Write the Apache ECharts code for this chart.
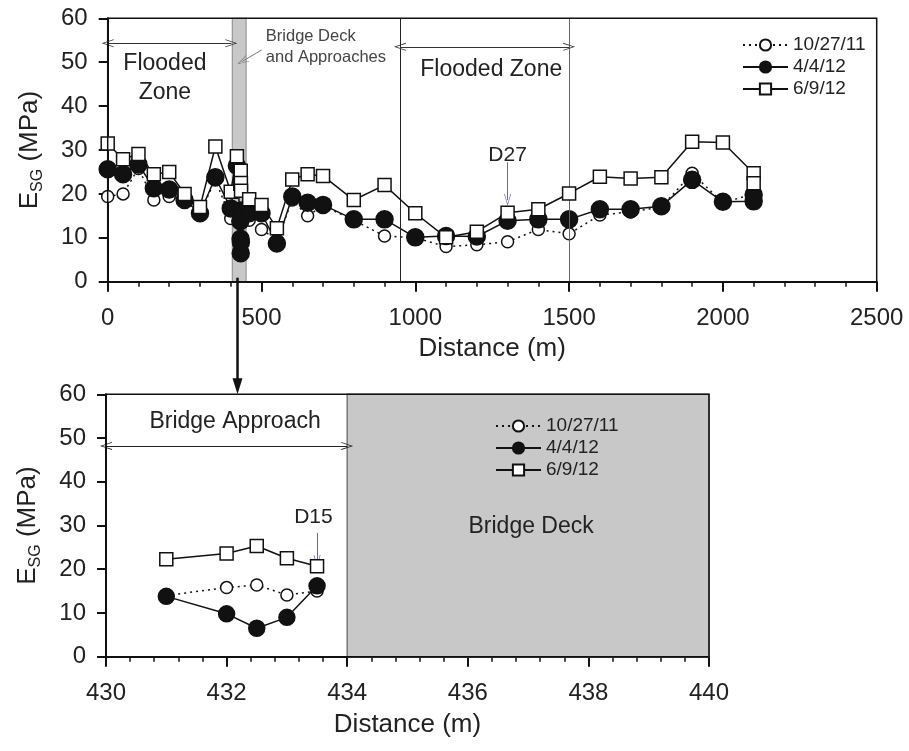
<!DOCTYPE html>
<html>
<head>
<meta charset="utf-8">
<script src="https://cdn.jsdelivr.net/npm/echarts@6/dist/echarts.min.js"></script>
<style>html,body{margin:0;padding:0;background:#fff;}#c{width:909px;height:751px;}</style>
</head>
<body>
<div id="c"></div>
<script>
// ---------- DATA ----------
const seriesNames = ['10/27/11', '4/4/12', '6/9/12'];

// Top chart: full alignment
const distTop = [0, 50, 100, 150, 200, 250, 300, 350, 400, 420, 431, 432, 432.5, 433, 433.5, 460, 500, 550, 600, 650, 700, 800, 900, 1000, 1100, 1200, 1300, 1400, 1500, 1600, 1700, 1800, 1900, 2000, 2100, 2100];
const esgOct11Top = [19.4, 20.0, 25.8, 18.6, 19.4, 18.6, 15.6, 23.2, 14.4, null, 14.0, 15.8, 16.4, 14.1, 15.0, 14.0, 11.9, 9.5, 18.6, 15.0, 17.3, 14.0, 10.4, 10.0, 8.0, 8.4, 9.1, 11.9, 10.9, 15.2, 15.9, 17.0, 24.7, 18.0, 20.0, null];
const esgApr12Top = [25.6, 24.5, 26.7, 21.3, 21.0, 18.6, 15.6, 23.8, 16.7, 26.4, 13.8, 9.8, 6.5, 9.0, 16.2, 15.6, 15.6, 8.7, 19.4, 18.0, 17.5, 14.2, 14.2, 10.1, 10.4, 10.3, 13.9, 14.2, 14.2, 16.5, 16.5, 17.2, 23.2, 18.2, 18.3, 19.8];
const esgJun12Top = [31.5, 27.9, 29.1, 24.5, 25.0, 20.0, 17.0, 30.8, 20.5, 28.6, 22.3, 23.6, 25.3, 22.5, 20.7, 18.8, 17.5, 12.2, 23.3, 24.5, 24.1, 18.6, 22.0, 15.6, 10.1, 11.4, 15.7, 16.5, 20.1, 23.9, 23.5, 23.8, 31.9, 31.7, 24.7, 22.4];

// Bottom chart: bridge approach detail
const distBridge = [431, 432, 432.5, 433, 433.5];
const esgOct11Bridge = [14.0, 15.8, 16.4, 14.1, 15.0];
const esgApr12Bridge = [13.8, 9.8, 6.5, 9.0, 16.2];
const esgJun12Bridge = [22.3, 23.6, 25.3, 22.5, 20.7];

// Zones (m)
const zoneBoundaries = [950, 1500];
const bridgeBandTop = [405, 450];
const bridgeDeckBottom = [434, 440];

// Axis ranges
const xRangeTop = [0, 2500, 500];
const xRangeBottom = [430, 440, 2];
const yRange = [0, 60, 10];

// ---------- STYLE ----------
const FONT = 'Liberation Sans, Arial, sans-serif';
const TXT = '#222';
const chevron = 'path://M0,10 L5,0 L10,10 L9,10 L5,2 L1,10 Z';

function pairs(xs, ys) {
  return xs.map((x, i) => [x, ys[i]]).filter(p => p[1] != null);
}

const symStyles = [
  { symbol: 'circle', color: '#fff', line: { color: '#111', width: 1.5, type: [2, 4] } },
  { symbol: 'circle', color: '#111', line: { color: '#111', width: 1.5, type: 'solid' } },
  { symbol: 'rect', color: '#fff', line: { color: '#111', width: 1.5, type: 'solid' } }
];
const symSizesTop = [12, 17, 13];
const symSizesBottom = [12, 16, 13];

function makeSeries(name, data, idx, grid, sizes) {
  const s = symStyles[idx];
  return {
    type: 'line', name: name, data: data,
    xAxisIndex: grid, yAxisIndex: grid,
    symbol: s.symbol, symbolSize: sizes[idx],
    showAllSymbol: true,
    itemStyle: { color: s.color, borderColor: '#111', borderWidth: 1.5 },
    lineStyle: s.line,
    emphasis: { disabled: true },
    z: 3 + idx
  };
}

function xAxisCfg(grid, r, minorSplit) {
  return {
    type: 'value', gridIndex: grid, min: r[0], max: r[1], interval: r[2],
    axisLine: { lineStyle: { color: '#111', width: 2 } },
    axisTick: { inside: false, length: 10, lineStyle: { color: '#111', width: 2 } },
    minorTick: { show: true, splitNumber: minorSplit, length: 5, lineStyle: { color: '#111', width: 1.5 } },
    splitLine: { show: false },
    axisLabel: { color: TXT, fontSize: 24, fontFamily: FONT, margin: 25, formatter: v => String(v) },
    name: 'Distance (m)', nameLocation: 'middle', nameGap: grid === 0 ? 54 : 55,
    nameTextStyle: { color: TXT, fontSize: 26, fontFamily: FONT }
  };
}
function yAxisCfg(grid) {
  return {
    type: 'value', gridIndex: grid, min: yRange[0], max: yRange[1], interval: yRange[2],
    axisLine: { show: true, lineStyle: { color: '#111', width: 2 } },
    axisTick: { show: true, inside: false, length: 9, lineStyle: { color: '#111', width: 2 } },
    splitLine: { show: false },
    axisLabel: { color: TXT, fontSize: 24, fontFamily: FONT, margin: 20, formatter: v => String(v) },
    name: '{e|E}{s|SG}{e| (MPa)}', nameLocation: 'middle', nameGap: 62,
    nameTextStyle: {
      color: TXT, fontFamily: FONT,
      rich: {
        e: { fontSize: 26, color: TXT, fontFamily: FONT, lineHeight: 30, verticalAlign: 'bottom', padding: [0, 0, 3, 0] },
        s: { fontSize: 16, color: TXT, fontFamily: FONT, lineHeight: 30, verticalAlign: 'bottom' }
      }
    }
  };
}

const top0 = makeSeries(seriesNames[0], pairs(distTop, esgOct11Top), 0, 0, symSizesTop);
const top1 = makeSeries(seriesNames[1], pairs(distTop, esgApr12Top), 1, 0, symSizesTop);
const top2 = makeSeries(seriesNames[2], pairs(distTop, esgJun12Top), 2, 0, symSizesTop);
const bot0 = makeSeries(seriesNames[0], pairs(distBridge, esgOct11Bridge), 0, 1, symSizesBottom);
const bot1 = makeSeries(seriesNames[1], pairs(distBridge, esgApr12Bridge), 1, 1, symSizesBottom);
const bot2 = makeSeries(seriesNames[2], pairs(distBridge, esgJun12Bridge), 2, 1, symSizesBottom);

// Top: bridge band + zone boundaries
top0.markArea = {
  silent: true,
  itemStyle: { color: '#c8c8c8', borderColor: '#888', borderWidth: 1 },
  data: [[{ xAxis: bridgeBandTop[0] }, { xAxis: bridgeBandTop[1] }]]
};
top0.markLine = {
  silent: true, symbol: 'none', label: { show: false }, animation: false,
  lineStyle: { color: '#222', width: 1, type: 'solid' },
  data: [{ xAxis: zoneBoundaries[0] }, { xAxis: zoneBoundaries[1], lineStyle: { color: '#666', width: 1, type: 'solid' } }]
};
// Top: flooded zone double arrows
top1.markLine = {
  silent: true, symbol: [chevron, chevron], symbolSize: [8, 12], label: { show: false }, animation: false,
  lineStyle: { color: '#333', width: 1, type: 'solid' },
  data: [
    [{ coord: [0, 54.3] }, { coord: [bridgeBandTop[0] - 3, 54.3] }],
    [{ coord: [zoneBoundaries[0], 53.5] }, { coord: [zoneBoundaries[1], 53.5] }]
  ]
};
// Top: D27 arrow + pointer to bridge band
top2.markLine = {
  silent: true, symbol: ['none', chevron], symbolSize: [7, 12], label: { show: false }, animation: false,
  lineStyle: { color: '#7060b0', width: 1, type: 'solid' },
  data: [
    [{ coord: [1300, 27.2], lineStyle: { color: '#7060b0', width: 1, type: 'solid' } }, { coord: [1300, 18.6] }],
    [{ coord: [501, 52.8], lineStyle: { color: '#777', width: 1, type: 'solid' } }, { coord: [bridgeBandTop[1] - 12, 50.2] }]
  ]
};
// Bottom: bridge deck area
bot0.markArea = {
  silent: true,
  itemStyle: { color: '#c8c8c8', borderColor: '#777', borderWidth: 1.5 },
  data: [[{ xAxis: bridgeDeckBottom[0] }, { xAxis: bridgeDeckBottom[1] }]]
};
bot1.markLine = {
  silent: true, symbol: [chevron, chevron], symbolSize: [8, 12], label: { show: false }, animation: false,
  lineStyle: { color: '#222', width: 1, type: 'solid' },
  data: [[{ coord: [xRangeBottom[0], 48.2] }, { coord: [bridgeDeckBottom[0], 48.2] }]]
};
bot2.markLine = {
  silent: true, symbol: ['none', chevron], symbolSize: [7, 12], label: { show: false }, animation: false,
  lineStyle: { color: '#7060b0', width: 1, type: 'solid' },
  data: [[{ coord: [433.5, 28.3] }, { coord: [433.5, 21.9] }]]
};

const legendCommon = {
  orient: 'vertical', itemWidth: 45, itemHeight: 14, itemGap: 2,
  textStyle: { color: TXT, fontSize: 19, fontFamily: FONT, lineHeight: 20 },
  data: seriesNames, selectedMode: false
};

const option = {
  animation: false,
  backgroundColor: '#fff',
  textStyle: { fontFamily: FONT },
  grid: [
    { left: 107.7, top: 18.3, width: 769, height: 263.4, show: false },
    { left: 106, top: 394.3, width: 603, height: 262.4, show: false }
  ],
  xAxis: [xAxisCfg(0, xRangeTop, 5), xAxisCfg(1, xRangeBottom, 5)],
  yAxis: [yAxisCfg(0), yAxisCfg(1)],
  legend: [
    Object.assign({ left: 737, top: 30 }, legendCommon),
    Object.assign({ left: 490, top: 411 }, legendCommon)
  ],
  series: [top0, top1, top2, bot0, bot1, bot2]
};

const chart = echarts.init(document.getElementById('c'), null, { renderer: 'canvas' });
chart.setOption(option);

// ---------- ANNOTATIONS (positioned through the chart's own scales) ----------
const px = (g, v) => chart.convertToPixel({ gridIndex: g }, v);
const t0 = px(0, [xRangeTop[0], yRange[1]]), t1 = px(0, [xRangeTop[1], yRange[0]]);
const b0 = px(1, [xRangeBottom[0], yRange[1]]), b1 = px(1, [xRangeBottom[1], yRange[0]]);

function txt(pos, text, size, extra) {
  return {
    type: 'text', x: pos[0], y: pos[1], z: 50, silent: true,
    style: Object.assign({ text: text, fill: TXT, font: size + 'px ' + FONT, textAlign: 'center', textVerticalAlign: 'middle' }, extra || {})
  };
}

const arrowTop = px(0, [422, yRange[0]]);
const arrowEnd = px(1, [xRangeBottom[0], yRange[1]]);
const ax = arrowTop[0];

const graphics = [
  // chart frames (top & right edges)
  { type: 'rect', z: 40, silent: true, shape: { x: t0[0], y: t0[1], width: t1[0] - t0[0], height: t1[1] - t0[1] }, style: { fill: 'none', stroke: '#111', lineWidth: 1.5 } },
  { type: 'rect', z: 40, silent: true, shape: { x: b0[0], y: b0[1], width: b1[0] - b0[0], height: b1[1] - b0[1] }, style: { fill: 'none', stroke: '#111', lineWidth: 1.5 } },
  // connecting arrow
  { type: 'line', z: 45, silent: true, shape: { x1: ax, y1: arrowTop[1] - 4, x2: ax, y2: arrowEnd[1] - 12 }, style: { stroke: '#111', lineWidth: 2.5 } },
  { type: 'polygon', z: 45, silent: true, shape: { points: [[ax - 5, arrowEnd[1] - 16], [ax + 5, arrowEnd[1] - 16], [ax, arrowEnd[1]]] }, style: { fill: '#111' } },
  // top annotations
  txt(px(0, [186, 46.3]), 'Flooded\nZone', 23, { lineHeight: 29 }),
  txt(px(0, [514, 53.5]), 'Bridge Deck\nand Approaches', 16.5, { textAlign: 'left', fill: '#444', lineHeight: 21.5 }),
  txt(px(0, [1247, 48.4]), 'Flooded Zone', 23),
  txt(px(0, [1300, 28.8]), 'D27', 21),
  // bottom annotations
  txt(px(1, [432.14, 53.7]), 'Bridge Approach', 23),
  txt(px(1, [437.05, 29.7]), 'Bridge Deck', 23),
  txt(px(1, [433.44, 32.0]), 'D15', 21)
];

chart.setOption({ graphic: graphics });
</script>
</body>
</html>
